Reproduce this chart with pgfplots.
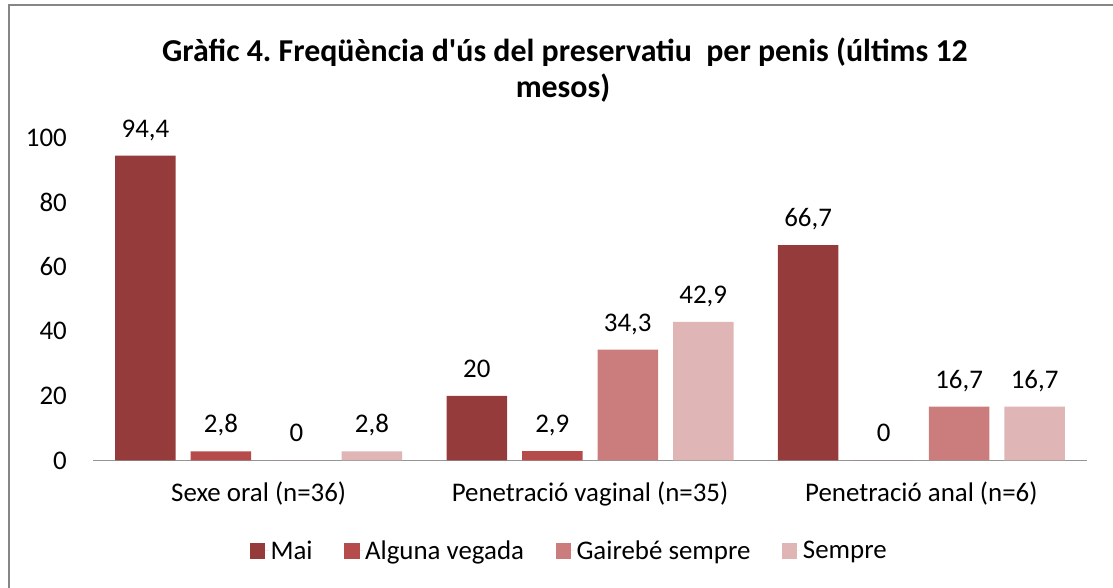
\documentclass[border=0pt]{standalone}
\usepackage{pgfplots}
\pgfplotsset{compat=1.18}
\usepackage{fontspec}
\setmainfont{Carlito}[Ligatures=TeXOff]
\frenchspacing
\definecolor{cMai}{RGB}{149,59,59}
\definecolor{cAlg}{RGB}{182,75,75}
\definecolor{cGai}{RGB}{203,125,125}
\definecolor{cSem}{RGB}{223,181,181}
\definecolor{cBord}{RGB}{134,134,134}
\definecolor{cAxis}{RGB}{150,150,150}
\begin{document}
\begin{tikzpicture}[x=1bp,y=1bp]
\useasboundingbox (0,0) rectangle (1113,588);
\draw[line width=2bp, cBord] (9,-5) -- (9,583) -- (1120,583);
\node[anchor=base, inner sep=0pt, font=\fontsize{32}{38}\selectfont\bfseries] at (565,526.5) {Gràfic 4. Freqüència d'ús del preservatiu\ \ per penis (últims 12};
\node[anchor=base, inner sep=0pt, font=\fontsize{32}{38}\selectfont\bfseries] at (563,490.5) {mesos)};
\begin{axis}[
  at={(93bp,127.5bp)}, anchor=south west,
  scale only axis, width=994bp, height=323bp,
  xmin=-0.5, xmax=2.5, ymin=0, ymax=100,
  axis x line*=bottom, axis y line*=left,
  x axis line style={cAxis, line width=1.8bp},
  y axis line style={draw=none},
  ytick={0,20,40,60,80,100},
  xtick={0,1,2},
  xticklabels={Sexe oral (n=36), Penetració vaginal (n=35), Penetració anal (n=6)},
  major tick length=0pt,
  /pgf/number format/use comma,
  /pgf/number format/assume math mode=true,
  ticklabel style={font=\fontsize{27}{32}\selectfont, text=black},
  yticklabel style={anchor=east, inner sep=0pt, xshift=-26bp},
  xticklabel style={anchor=base, inner sep=0pt, yshift=-41bp},
  ybar=15bp, bar width=60.5bp,
  nodes near coords,
  every node near coord/.append style={font=\fontsize{27}{32}\selectfont, text=black, anchor=base, inner sep=0pt, yshift=18.5bp},
  legend image code/.code={\fill[#1] (0bp,-7.7bp) rectangle (15.5bp,7.7bp); \path (0bp,0bp) -- (19bp,0bp);},
  legend columns=4,
  legend style={draw=none, fill=none, at={(0.479,-0.28)}, anchor=center,
    font=\fontsize{27}{32}\selectfont, inner sep=0pt,
    /tikz/every even column/.append style={column sep=29.5bp}},
  legend cell align=left,
]
\addplot[fill=cMai, draw=none] coordinates {(0,94.4) (1,20) (2,66.7)};
\addplot[fill=cAlg, draw=none] coordinates {(0,2.8) (1,2.9) (2,0)};
\addplot[fill=cGai, draw=none] coordinates {(0,0) (1,34.3) (2,16.7)};
\addplot[fill=cSem, draw=none] coordinates {(0,2.8) (1,42.9) (2,16.7)};
\legend{Mai, Alguna vegada, Gairebé sempre, Sempre}
\end{axis}
\end{tikzpicture}
\end{document}
